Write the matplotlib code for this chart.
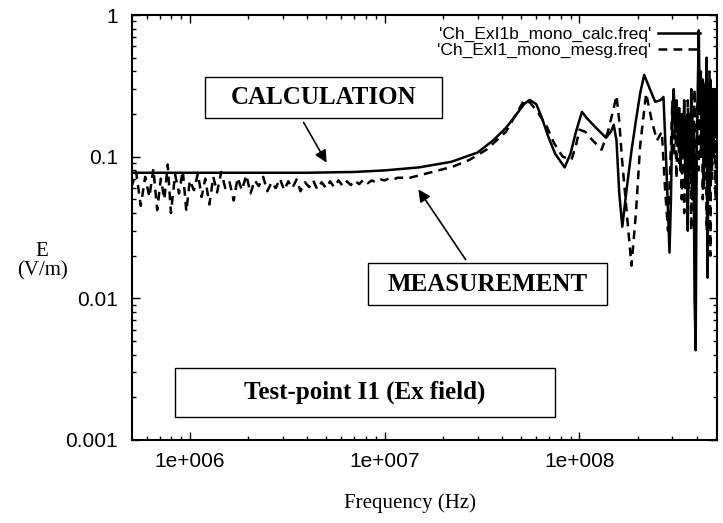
import matplotlib
matplotlib.use("Agg")
import matplotlib.pyplot as plt
from matplotlib.patches import Rectangle
from matplotlib.ticker import FixedLocator, FixedFormatter, LogLocator, NullFormatter

# ── Data ────────────────────────────────────────────────────────────────────
calc_freq = [5.0e5, 1.0e6, 2.0e6, 4.0e6, 7.0e6, 1.0e7, 1.5e7, 2.2e7, 3.0e7,
             3.6e7, 4.2e7, 4.7e7, 5.2e7, 5.55e7, 6.0e7, 6.4e7, 6.9e7, 7.5e7,
             8.4e7, 9.0e7, 9.6e7, 1.03e8, 1.1e8, 1.2e8, 1.37e8, 1.45e8, 1.5e8,
             1.55e8, 1.6e8, 1.66e8, 1.75e8, 1.85e8, 1.95e8, 2.05e8, 2.15e8,
             2.3e8, 2.45e8, 2.6e8, 2.7e8, 2.8e8, 2.9e8,
             2.95e8, 3.0e8, 3.05e8, 3.1e8, 3.15e8, 3.2e8, 3.25e8, 3.3e8, 3.35e8,
             3.4e8, 3.45e8, 3.5e8, 3.55e8, 3.6e8, 3.65e8, 3.7e8, 3.75e8, 3.8e8,
             3.85e8, 3.9e8, 3.95e8, 4.0e8, 4.05e8, 4.1e8, 4.15e8, 4.2e8, 4.25e8,
             4.3e8, 4.35e8, 4.4e8, 4.45e8, 4.5e8, 4.55e8, 4.6e8, 4.65e8, 4.7e8,
             4.75e8, 4.8e8, 4.85e8, 4.9e8, 4.95e8, 5.0e8, 5.05e8]
calc_e = [0.077, 0.077, 0.077, 0.077, 0.078, 0.080, 0.084, 0.092, 0.107,
          0.130, 0.160, 0.195, 0.235, 0.252, 0.235, 0.190, 0.140, 0.105,
          0.084, 0.105, 0.150, 0.207, 0.185, 0.163, 0.136, 0.150, 0.168,
          0.130, 0.056, 0.032, 0.060, 0.110, 0.180, 0.280, 0.378,
          0.300, 0.244, 0.250, 0.264, 0.080, 0.021,
          0.050, 0.200, 0.300, 0.150, 0.250, 0.120, 0.220, 0.080, 0.200,
          0.100, 0.250, 0.060, 0.180, 0.030, 0.200, 0.080, 0.300, 0.050,
          0.150, 0.010, 0.0043, 0.100, 0.300, 0.780, 0.200, 0.400, 0.100,
          0.350, 0.060, 0.300, 0.100, 0.500, 0.014, 0.300, 0.050, 0.350,
          0.080, 0.250, 0.100, 0.300, 0.150, 0.300, 0.200]

meas_freq = [5.0e5, 5.3e5, 5.6e5, 5.9e5, 6.2e5, 6.5e5, 6.8e5, 7.1e5, 7.4e5,
             7.7e5, 8.0e5, 8.4e5, 8.8e5, 9.2e5, 9.6e5, 1.0e6, 1.05e6, 1.1e6,
             1.15e6, 1.2e6, 1.26e6, 1.32e6, 1.38e6, 1.45e6, 1.52e6, 1.6e6,
             1.68e6, 1.76e6, 1.85e6, 1.95e6, 2.05e6, 2.15e6, 2.26e6, 2.38e6,
             2.5e6, 2.63e6, 2.76e6, 2.9e6, 3.05e6, 3.2e6, 3.36e6, 3.53e6,
             3.7e6, 3.9e6, 4.1e6, 4.3e6, 4.5e6, 4.75e6, 5.0e6, 5.25e6, 5.5e6,
             5.8e6, 6.1e6, 6.4e6, 6.7e6, 7.0e6, 7.4e6, 7.8e6, 8.2e6, 8.6e6,
             9.0e6, 9.5e6, 1.0e7, 1.05e7, 1.1e7, 1.17e7, 1.25e7,
             1.35e7, 1.7e7, 2.24e7, 2.73e7, 3.33e7, 4.2e7, 4.7e7, 5.2e7, 5.6e7,
             6.2e7, 6.8e7, 7.4e7, 8.2e7, 9.1e7, 9.6e7, 1.0e8, 1.07e8, 1.16e8,
             1.3e8, 1.4e8, 1.5e8, 1.55e8, 1.6e8, 1.65e8, 1.75e8, 1.85e8, 1.95e8,
             2.05e8, 2.2e8, 2.35e8, 2.5e8, 2.65e8, 2.75e8, 2.85e8,
             2.95e8, 3.0e8, 3.05e8, 3.1e8, 3.15e8, 3.2e8, 3.25e8, 3.3e8, 3.35e8,
             3.4e8, 3.45e8, 3.5e8, 3.55e8, 3.6e8, 3.65e8, 3.7e8, 3.75e8, 3.8e8,
             3.85e8, 3.9e8, 3.95e8, 4.0e8, 4.05e8, 4.1e8, 4.15e8, 4.2e8, 4.25e8,
             4.3e8, 4.35e8, 4.4e8, 4.45e8, 4.5e8, 4.55e8, 4.6e8, 4.65e8, 4.7e8,
             4.75e8, 4.8e8, 4.85e8, 4.9e8, 4.95e8, 5.0e8, 5.05e8]
meas_e = [0.060, 0.078, 0.045, 0.072, 0.052, 0.082, 0.042, 0.070, 0.050,
          0.088, 0.040, 0.075, 0.055, 0.080, 0.041, 0.068, 0.058, 0.076,
          0.052, 0.070, 0.046, 0.072, 0.056, 0.078, 0.060, 0.066,
          0.049, 0.071, 0.058, 0.074, 0.055, 0.068, 0.062, 0.072,
          0.057, 0.066, 0.060, 0.070, 0.058, 0.067, 0.060, 0.069,
          0.057, 0.066, 0.061, 0.068, 0.059, 0.066, 0.060, 0.067, 0.061,
          0.068, 0.062, 0.067, 0.063, 0.068, 0.064, 0.069, 0.065, 0.068,
          0.066, 0.069, 0.068, 0.070, 0.069, 0.071, 0.071,
          0.071, 0.077, 0.085, 0.095, 0.112, 0.150, 0.197, 0.250, 0.240,
          0.200, 0.163, 0.125, 0.100, 0.095, 0.120, 0.155, 0.150, 0.132,
          0.112, 0.150, 0.220, 0.270, 0.180, 0.100, 0.040, 0.017, 0.040,
          0.120, 0.280, 0.180, 0.130, 0.150, 0.060, 0.030,
          0.120, 0.250, 0.100, 0.200, 0.070, 0.220, 0.090, 0.180, 0.050,
          0.150, 0.040, 0.200, 0.100, 0.250, 0.060, 0.150, 0.030, 0.200,
          0.090, 0.300, 0.050, 0.120, 0.250, 0.080, 0.350, 0.100, 0.300,
          0.050, 0.200, 0.080, 0.350, 0.030, 0.250, 0.100, 0.400, 0.020,
          0.200, 0.070, 0.300, 0.100, 0.250, 0.050, 0.200]

calc_label = "'Ch_ExI1b_mono_calc.freq'"
meas_label = "'Ch_ExI1_mono_mesg.freq'"
x_ticks = [1e6, 1e7, 1e8]
x_tick_labels = ["1e+006", "1e+007", "1e+008"]
y_ticks = [0.001, 0.01, 0.1, 1]
y_tick_labels = ["0.001", "0.01", "0.1", "1"]

SANS = ["Liberation Sans", "DejaVu Sans"]
SERIF = ["Liberation Serif", "DejaVu Serif"]

fig = plt.figure(figsize=(7.23, 5.23), dpi=100)
ax = fig.add_axes([0.1826, 0.1587, 0.809, 0.8126])

ax.plot(calc_freq, calc_e, color="black", lw=1.8, label=calc_label)
ax.plot(meas_freq, meas_e, color="black", lw=1.8, linestyle=(0, (3.5, 2.5)),
        label=meas_label)

ax.set_xscale("log")
ax.set_yscale("log")
ax.set_xlim(5.05e5, 5.08e8)
ax.set_ylim(0.001, 1)

# ── Ticks ──────────────────────────────────────────────────────────────────
ax.xaxis.set_major_locator(FixedLocator(x_ticks))
ax.xaxis.set_major_formatter(FixedFormatter(x_tick_labels))
ax.yaxis.set_major_locator(FixedLocator(y_ticks))
ax.yaxis.set_major_formatter(FixedFormatter(y_tick_labels))
for axis in (ax.xaxis, ax.yaxis):
    axis.set_minor_locator(LogLocator(base=10, subs=range(2, 10), numticks=20))
    axis.set_minor_formatter(NullFormatter())
ax.tick_params(which="both", direction="in", top=True, right=True, width=1.0)
ax.tick_params(which="major", length=6)
ax.tick_params(which="minor", length=3)
ax.tick_params(axis="y", which="major", pad=10)
ax.tick_params(axis="x", which="major", pad=9)
for lab in ax.get_xticklabels() + ax.get_yticklabels():
    lab.set_fontfamily(SANS)
    lab.set_fontsize(15)
for sp in ax.spines.values():
    sp.set_linewidth(1.5)

# ── Axis labels ────────────────────────────────────────────────────────────
fig.text(410 / 723, 1 - 503 / 523, "Frequency (Hz)", family=SERIF,
         fontsize=15, ha="center", va="center")
fig.text(42 / 723, 1 - 261 / 523, "E\n(V/m)", family=SERIF, fontsize=15,
         ha="center", va="center", linespacing=1.0)

# ── Legend ─────────────────────────────────────────────────────────────────
leg = ax.legend(loc="upper right", bbox_to_anchor=(0.971, 0.973),
                frameon=False, markerfirst=False, handlelength=2.4,
                handletextpad=0.4, labelspacing=0.05, borderpad=0,
                borderaxespad=0, prop={"family": SANS, "size": 12.5})

# ── Annotation boxes ───────────────────────────────────────────────────────
def boxed(cx, cy, w, h, text):
    ax.add_patch(Rectangle((cx - w / 2, cy - h / 2), w, h,
                           transform=ax.transAxes, fill=True, fc="white",
                           ec="black", lw=1.0, zorder=6))
    ax.text(cx, cy, text, transform=ax.transAxes, ha="center", va="center",
            family=SERIF, fontweight="bold", fontsize=18, zorder=7)

boxed(0.327, 0.806, 237 / 585, 41 / 425, "CALCULATION")
boxed(0.608, 0.367, 239 / 585, 42 / 425, "MEASUREMENT")
boxed(0.398, 0.112, 380 / 585, 49 / 425, "Test-point I1 (Ex field)")

arrow = dict(arrowstyle="-|>", color="black", lw=1.2, mutation_scale=18)
ax.annotate("", xy=(0.335, 0.647), xytext=(0.291, 0.753),
            xycoords="axes fraction", textcoords="axes fraction",
            arrowprops=arrow, zorder=8)
ax.annotate("", xy=(0.487, 0.595), xytext=(0.573, 0.419),
            xycoords="axes fraction", textcoords="axes fraction",
            arrowprops=arrow, zorder=8)

fig.savefig("out.png", dpi=100)
